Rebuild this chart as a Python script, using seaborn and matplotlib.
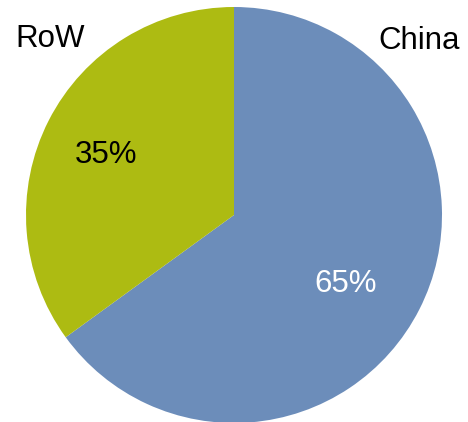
import matplotlib
matplotlib.use("Agg")
import matplotlib.pyplot as plt
import seaborn as sns

sns.set_theme(style="white")
plt.rcParams['font.family'] = ['Liberation Sans', 'DejaVu Sans']

categories = ["China", "RoW"]
values = [65, 35]
colors = ["#6C8DBA", "#ADBB12"]
pct_colors = ["white", "black"]

fig = plt.figure(figsize=(4.68, 4.22), dpi=100)
W, H = 468, 422
cx, cy, r = 234, 215, 208
ax = fig.add_axes([(cx - r) / W, (H - cy - r) / H, 2 * r / W, 2 * r / H])

wedges, texts, autotexts = ax.pie(values, colors=colors, startangle=90, counterclock=False,
                                  autopct=lambda p: f"{p:.0f}%", pctdistance=0.64,
                                  wedgeprops=dict(linewidth=0),
                                  textprops=dict(fontsize=22.5))
pct_pos = [(0.535, -0.33), (-0.615, 0.29)]
for t, c, p in zip(autotexts, pct_colors, pct_pos):
    t.set_color(c)
    t.set_position(p)

label_pos = {"China": (0.89, 0.835), "RoW": (-0.885, 0.845)}
for cat in categories:
    x, y = label_pos[cat]
    ax.text(x, y, cat, ha="center", va="center", fontsize=22.5, color="black")

ax.set_xlim(-1, 1)
ax.set_ylim(-1, 1)
ax.set_aspect("equal")
ax.axis("off")
fig.savefig("out.png", dpi=100)
